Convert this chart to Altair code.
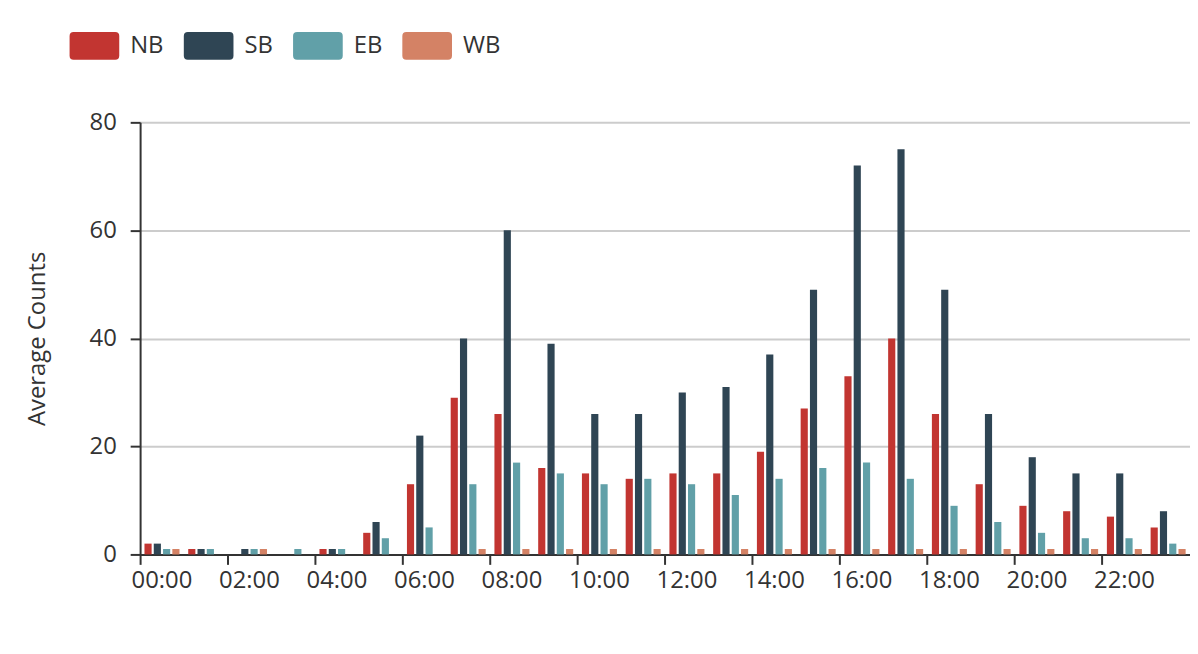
import altair as alt
import pandas as pd

hours = [f"{h:02d}:00" for h in range(24)]
directions = ["NB", "SB", "EB", "WB"]
colors = ["#c23531", "#2f4554", "#61a0a8", "#d48265"]

nb = [2, 1, 0, 0, 1, 4, 13, 29, 26, 16, 15, 14, 15, 15, 19, 27, 33, 40, 26, 13, 9, 8, 7, 5]
sb = [2, 1, 1, 0, 1, 6, 22, 40, 60, 39, 26, 26, 30, 31, 37, 49, 72, 75, 49, 26, 18, 15, 15, 8]
eb = [1, 1, 1, 1, 1, 3, 5, 13, 17, 15, 13, 14, 13, 11, 14, 16, 17, 14, 9, 6, 4, 3, 3, 2]
wb = [1, 0, 1, 0, 0, 0, 0, 1, 1, 1, 1, 1, 1, 1, 1, 1, 1, 1, 1, 1, 1, 1, 1, 1]

rows = []
for d, vals in zip(directions, [nb, sb, eb, wb]):
    for h, v in zip(hours, vals):
        rows.append({"hour": h, "dir": d, "count": v})
df = pd.DataFrame(rows)

FONT = "Open Sans"
rr = ("M-0.84,-0.56 L0.84,-0.56 Q1,-0.56 1,-0.4 L1,0.4 Q1,0.56 0.84,0.56 "
      "L-0.84,0.56 Q-1,0.56 -1,0.4 L-1,-0.4 Q-1,-0.56 -0.84,-0.56 Z")

W = 1057
H = 435

chart = alt.Chart(df).transform_filter(alt.datum.count > 0).mark_bar().encode(
    x=alt.X("hour:N", sort=hours,
            scale=alt.Scale(domain=hours, paddingInner=0, paddingOuter=0),
            axis=alt.Axis(values=hours[::2], bandPosition=0, labelAngle=0, title=None,
                          grid=False, domainColor="#333333", domainWidth=2,
                          tickColor="#333333", tickWidth=2, tickSize=10,
                          labelPadding=4, labelFontSize=24, labelColor="#333333",
                          labelFont=FONT)),
    xOffset=alt.XOffset("dir:N", sort=directions,
                        scale=alt.Scale(domain=directions, paddingInner=0.23, paddingOuter=0.47)),
    y=alt.Y("count:Q",
            scale=alt.Scale(domain=[0, 80], nice=False),
            axis=alt.Axis(values=[0, 20, 40, 60, 80], title="Average Counts",
                          titleFontSize=24, titleFont=FONT, titleFontWeight="normal",
                          titleColor="#333333", titlePadding=40,
                          grid=True, gridColor="#cccccc", gridWidth=2,
                          domainColor="#333333", domainWidth=2,
                          tickColor="#333333", tickWidth=2, tickSize=10,
                          labelPadding=14, labelFontSize=24, labelColor="#333333",
                          labelFont=FONT)),
    color=alt.Color("dir:N", sort=directions,
                    scale=alt.Scale(domain=directions, range=colors),
                    legend=alt.Legend(orient="none", legendX=-71, legendY=-102,
                                      direction="horizontal", title=None,
                                      symbolType=rr, symbolSize=2500,
                                      symbolStrokeWidth=0, labelFontSize=24,
                                      labelFont=FONT, labelColor="#333333",
                                      labelOffset=11, columnPadding=20)),
).properties(
    width=W, height=H,
    autosize=alt.AutoSizeParams(type="none"),
    padding={"left": 133, "top": 113, "right": 0, "bottom": 80},
).configure_view(stroke=None)

chart.save("out.html", embed_options={"renderer": "svg", "actions": False})
